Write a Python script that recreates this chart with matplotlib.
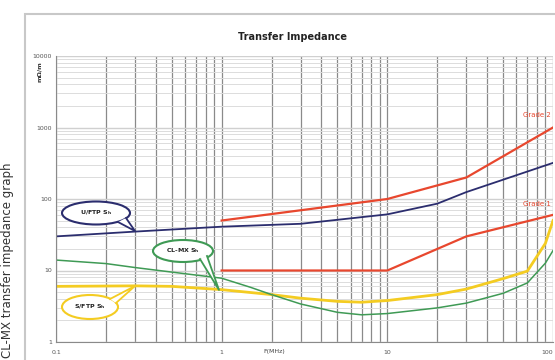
import matplotlib.pyplot as plt
from matplotlib.patches import Ellipse, Rectangle

grade2_f = [1, 10, 30, 100]
grade2_z = [50, 100, 200, 1000]
grade1_f = [1, 10, 30, 100]
grade1_z = [10, 10, 30, 60]
uftp_f = [0.1, 0.3, 1, 3, 10, 20, 30, 100]
uftp_z = [30, 35, 41, 45, 61, 86, 125, 320]
clmx_f = [0.1, 0.2, 0.3, 0.5, 1, 1.5, 2, 3, 5, 7, 10, 20, 30, 50, 70, 90, 100]
clmx_z = [14, 12.5, 11, 9.5, 7.8, 5.8, 4.6, 3.4, 2.6, 2.4, 2.5, 3.0, 3.5, 4.8, 6.7, 12.7, 19]
sftp_f = [0.1, 0.3, 0.5, 1, 2, 3, 5, 7, 10, 20, 30, 50, 70, 90, 100]
sftp_z = [6, 6.1, 6, 5.4, 4.6, 4.1, 3.7, 3.6, 3.8, 4.6, 5.5, 7.7, 9.8, 24, 50]

fig = plt.figure(figsize=(5.55, 3.6), dpi=100)
fig.patches.append(Rectangle((25/555, -0.1), 1.0, 1 - 14/360 + 0.1, transform=fig.transFigure,
                             fill=False, edgecolor='#c8c8c8', linewidth=1.5))
ax = fig.add_axes([56/555, 18/360, 497/555, 286/360])
ax.set_xscale('log')
ax.set_yscale('log')
ax.set_xlim(0.1, 100)
ax.set_ylim(1, 10000)

ax.grid(True, which='minor', axis='x', color='#8a8a8a', linewidth=0.9)
ax.grid(True, which='major', axis='x', color='#8a8a8a', linewidth=0.9)
ax.grid(True, which='minor', axis='y', color='#dcdcdc', linewidth=0.7)
ax.grid(True, which='major', axis='y', color='#d0d0d0', linewidth=1.0)
ax.set_axisbelow(True)
for s in ['top', 'right']:
    ax.spines[s].set_visible(False)
for s in ['left', 'bottom']:
    ax.spines[s].set_color('#8a8a8a')

ax.set_xticks([0.1, 1, 10, 100])
ax.set_xticklabels(['0.1', '1', '10', '100'])
ax.get_xticklabels()[-1].set_horizontalalignment('right')
ax.set_yticks([1, 10, 100, 1000, 10000])
ax.set_yticklabels(['1', '10', '100', '1000', '10000'])
ax.tick_params(which='both', length=0, labelsize=4.5, colors='#555555', pad=3)
ax.tick_params(axis='x', pad=6)

ax.plot(grade2_f, grade2_z, color='#e8472e', linewidth=1.6)
ax.plot(grade1_f, grade1_z, color='#e8472e', linewidth=1.6)
ax.plot(uftp_f, uftp_z, color='#2b2d6e', linewidth=1.3)
ax.plot(sftp_f, sftp_z, color='#f4cc22', linewidth=2.0)
ax.plot(clmx_f, clmx_z, color='#3f9a55', linewidth=1.1)

ax.text(0.995, 1000 * 1.35, 'Grade 2', color='#e8472e', fontsize=5, ha='right', va='bottom',
        transform=ax.get_yaxis_transform())
ax.text(0.995, 60 * 1.3, 'Grade 1', color='#e8472e', fontsize=5, ha='right', va='bottom',
        transform=ax.get_yaxis_transform())

def balloon(cx, cy, w, h, tip, base, col, label):
    # positions in figure pixels (top-left origin)
    tr = lambda x, y: (x / 555, 1 - y / 360)
    e = Ellipse(tr(cx, cy), w / 555, h / 360, transform=fig.transFigure,
                facecolor='white', edgecolor=col, linewidth=1.5, zorder=5)
    fig.patches.append(e)
    xs = [tr(*base[0])[0], tr(*tip)[0], tr(*base[1])[0]]
    ys = [tr(*base[0])[1], tr(*tip)[1], tr(*base[1])[1]]
    fig.lines.append(plt.Line2D(xs, ys, transform=fig.transFigure, color=col,
                                linewidth=1.3, zorder=6))
    fig.patches.append(plt.Polygon(list(zip(xs, ys)), closed=True, transform=fig.transFigure,
                                   facecolor='white', edgecolor='none', zorder=5.5))
    fig.text(*tr(cx, cy), label, fontsize=4.5, fontweight='bold', ha='center', va='center',
             color='#222222', zorder=7)

balloon(96, 213, 68, 23, (135, 231), [(118, 222), (126, 218)], '#2b2d6e', 'U/FTP $\\mathregular{S_h}$')
balloon(183, 251, 60, 22, (219, 290), [(200, 259), (207, 256)], '#3f9a55', 'CL-MX $\\mathregular{S_h}$')
balloon(90, 307, 56, 24, (135, 286), [(110, 299), (116, 303)], '#f4cc22', 'S/FTP $\\mathregular{S_h}$')

fig.text(293 / 555, 1 - 37 / 360, 'Transfer Impedance', fontsize=7, fontweight='bold',
         ha='center', va='center', color='#222222')
fig.text(40 / 555, 1 - 72 / 360, 'm\u03a9/m', fontsize=4.5, fontweight='bold', rotation=90,
         ha='center', va='center', color='#333333')
ax.text(0.44, -0.025, 'F(MHz)', fontsize=4.5, color='#444444', ha='center', va='top',
        transform=ax.transAxes)
fig.text(8 / 555, 2 / 360, 'CL-MX transfer impedance graph', fontsize=8.5, rotation=90,
         ha='center', va='bottom', color='#333333')

fig.savefig('out.png', dpi=100)
